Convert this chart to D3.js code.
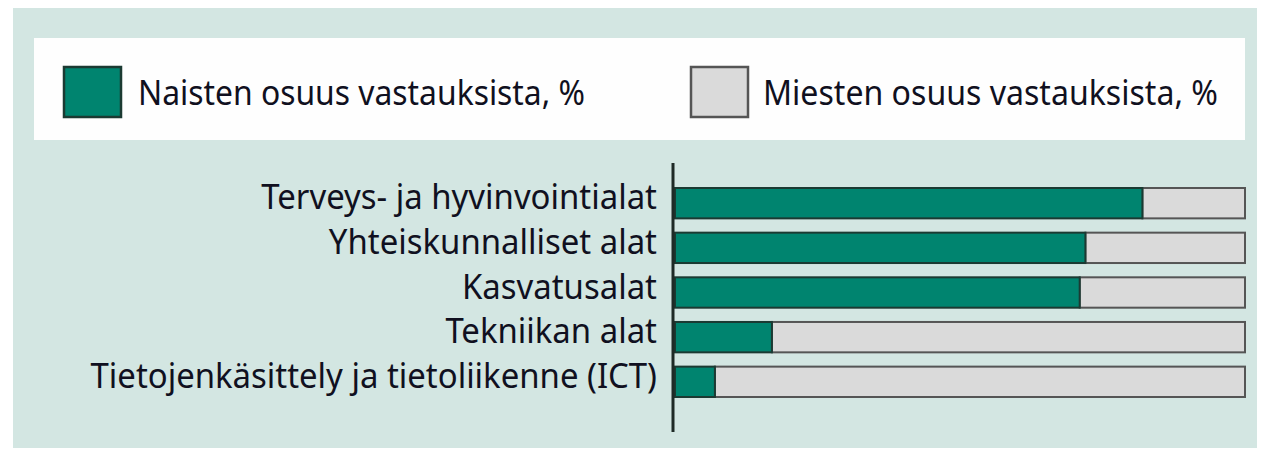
<!DOCTYPE html>
<html>
<head>
<meta charset="utf-8">
<script src="https://cdn.jsdelivr.net/npm/d3@7"></script>
<style>
  body { margin: 0; background: #ffffff; }
  text { font-family: "Noto Sans", "Open Sans", sans-serif; fill: #101020; }
</style>
</head>
<body>
<div id="chart"></div>
<script>
// data
const categories = [
  "Terveys- ja hyvinvointialat",
  "Yhteiskunnalliset alat",
  "Kasvatusalat",
  "Tekniikan alat",
  "Tietojenkäsittely ja tietoliikenne (ICT)",
];
const women = [82, 72, 71, 17, 7];
const men = women.map((d) => 100 - d);
const legendLabels = ["Naisten osuus vastauksista, %", "Miesten osuus vastauksista, %"];

const green = "#00846f";
const greenStroke = "#1b3a32";
const grey = "#dadada";
const greyStroke = "#555555";

const width = 1261;
const height = 451;

const svg = d3
  .select("#chart")
  .append("svg")
  .attr("width", width)
  .attr("height", height);

// panel background
svg.append("rect")
  .attr("x", 13).attr("y", 8)
  .attr("width", 1244).attr("height", 440)
  .attr("fill", "#d3e6e2");

// legend box
svg.append("rect")
  .attr("x", 34).attr("y", 38)
  .attr("width", 1211).attr("height", 102)
  .attr("fill", "#fefefe");

const legendItems = [
  { color: green, stroke: greenStroke, label: legendLabels[0], x: 64, tx: 138, w: 447 },
  { color: grey, stroke: greyStroke, label: legendLabels[1], x: 691, tx: 763, w: 455 },
];

const legend = svg.append("g");
legend.selectAll("g")
  .data(legendItems)
  .enter()
  .append("g")
  .each(function (d) {
    const g = d3.select(this);
    g.append("rect")
      .attr("x", d.x)
      .attr("y", 67)
      .attr("width", 57)
      .attr("height", 50)
      .attr("fill", d.color)
      .attr("stroke", d.stroke)
      .attr("stroke-width", 2.5);
    g.append("text")
      .attr("x", d.tx)
      .attr("y", 105)
      .attr("textLength", d.w)
      .attr("lengthAdjust", "spacingAndGlyphs")
      .style("font-size", "35px")
      .text(d.label);
  });

const xScale = d3.scaleLinear().domain([0, 100]).range([675, 1245]);
const yScale = d3.scaleBand().domain(categories).range([188, 397]).paddingInner(0.32);

const rows = categories.map((c, i) => ({ cat: c, women: women[i], men: men[i] }));

// grey (men) part
svg.selectAll(".men")
  .data(rows)
  .enter()
  .append("rect")
  .attr("x", (d) => xScale(d.women))
  .attr("y", (d) => yScale(d.cat))
  .attr("width", (d) => xScale(100) - xScale(d.women))
  .attr("height", yScale.bandwidth())
  .attr("fill", grey)
  .attr("stroke", greyStroke)
  .attr("stroke-width", 2);

// green (women) part
svg.selectAll(".women")
  .data(rows)
  .enter()
  .append("rect")
  .attr("x", xScale(0))
  .attr("y", (d) => yScale(d.cat))
  .attr("width", (d) => xScale(d.women) - xScale(0))
  .attr("height", yScale.bandwidth())
  .attr("fill", green)
  .attr("stroke", greenStroke)
  .attr("stroke-width", 2);

// vertical axis line
svg.append("line")
  .attr("x1", xScale(0) - 2).attr("x2", xScale(0) - 2)
  .attr("y1", 163).attr("y2", 432)
  .attr("stroke", "#1e2a26")
  .attr("stroke-width", 3);

// category labels
svg.selectAll(".label")
  .data(rows)
  .enter()
  .append("text")
  .attr("x", 657)
  .attr("y", (d) => yScale(d.cat) + yScale.bandwidth() / 2 + 6)
  .attr("text-anchor", "end")
  .style("font-size", "35px")
  .text((d) => d.cat)
  .each(function () {
    // squeeze to the narrow lettering of the original
    const w = this.getComputedTextLength();
    d3.select(this).attr("textLength", w * 0.94).attr("lengthAdjust", "spacingAndGlyphs");
  });
</script>
</body>
</html>
